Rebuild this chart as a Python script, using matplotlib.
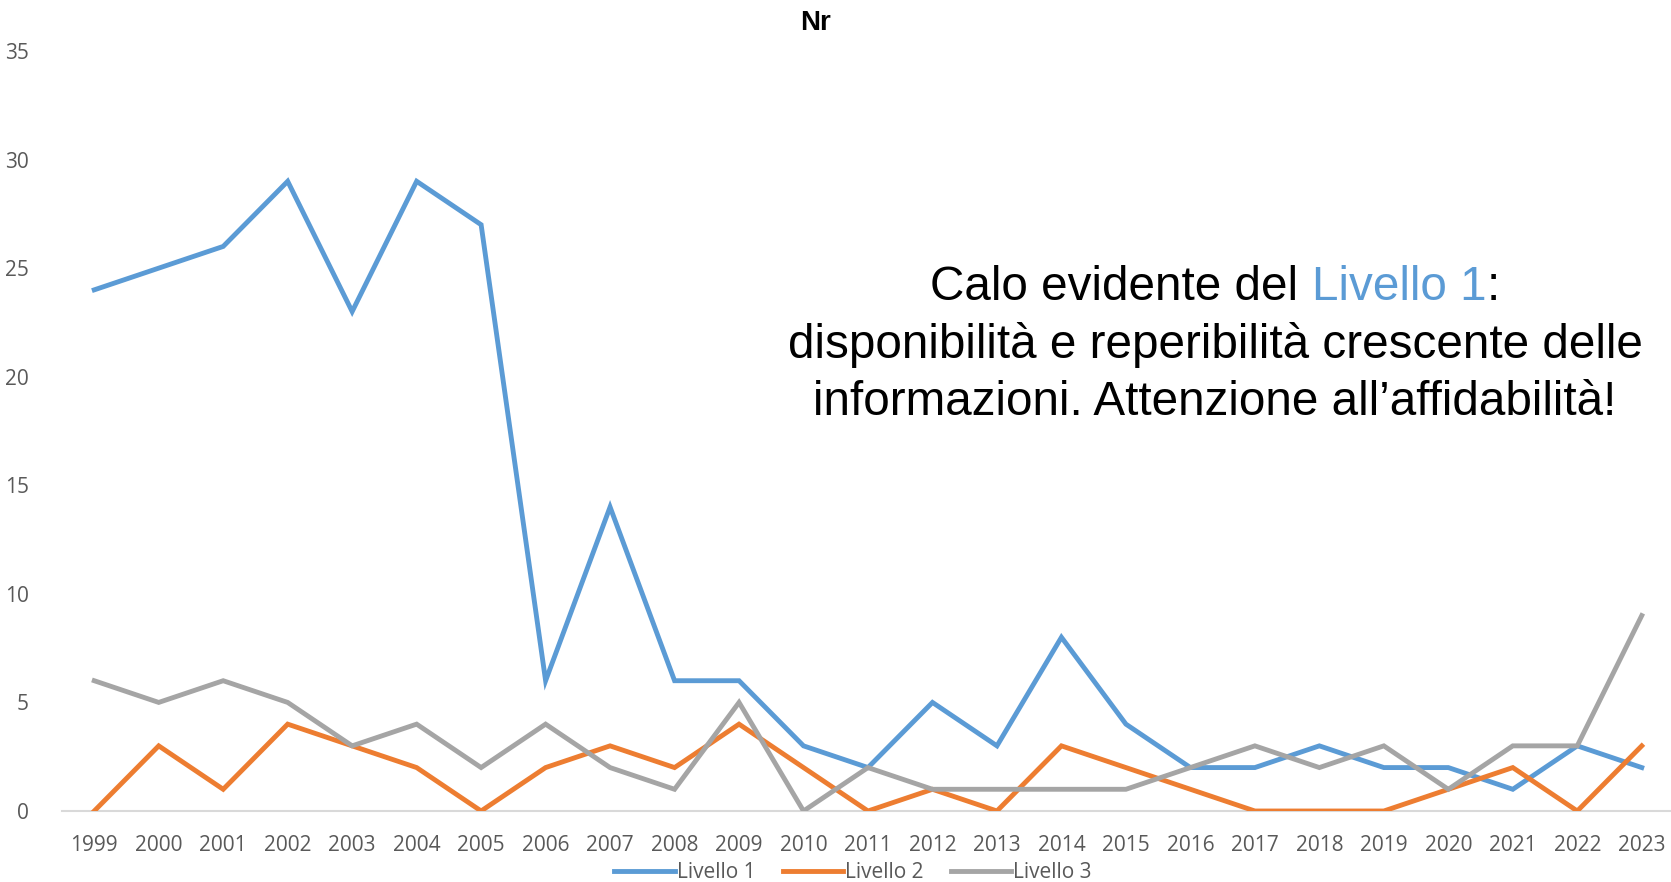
import matplotlib
matplotlib.use("Agg")
import matplotlib.pyplot as plt
from matplotlib.lines import Line2D

years = [str(y) for y in range(1999, 2024)]
livello1 = [24, 25, 26, 29, 23, 29, 27, 6, 14, 6, 6, 3, 2, 5, 3, 8, 4, 2, 2, 3, 2, 2, 1, 3, 2]
livello2 = [0, 3, 1, 4, 3, 2, 0, 2, 3, 2, 4, 2, 0, 1, 0, 3, 2, 1, 0, 0, 0, 1, 2, 0, 3]
livello3 = [6, 5, 6, 5, 3, 4, 2, 4, 2, 1, 5, 0, 2, 1, 1, 1, 1, 2, 3, 2, 3, 1, 3, 3, 9]
series_names = ["Livello 1", "Livello 2", "Livello 3"]
colors = ["#5B9BD5", "#ED7D31", "#A5A5A5"]
yticks = [0, 5, 10, 15, 20, 25, 30, 35]

plt.rcParams['font.family'] = ['Open Sans', 'DejaVu Sans']

W, H = 1671, 882
fig = plt.figure(figsize=(W / 100, H / 100), dpi=100)
ax = fig.add_axes([62 / W, (H - 811) / H, (1674 - 62) / W, (811 - 51) / H])

x = list(range(len(years)))
for vals, c, name in zip([livello1, livello2, livello3], colors, series_names):
    ax.plot(x, vals, color=c, lw=3.5, solid_joinstyle='miter', label=name, zorder=3)

ax.set_xlim(-0.5, len(years) - 0.5)
ax.set_ylim(0, 35)
ax.set_yticks(yticks)
ax.set_xticks(x)
ax.set_xticklabels(years)
for s in ['top', 'right', 'left']:
    ax.spines[s].set_visible(False)
ax.spines['bottom'].set_color('#D9D9D9')
ax.spines['bottom'].set_linewidth(1.5)
ax.tick_params(axis='both', length=0, colors='#595959', labelsize=15)
ax.tick_params(axis='y', pad=24)
ax.tick_params(axis='x', pad=17)
ax.set_facecolor('none')

fig.text(815 / W, 1 - 23 / H, "Nr", ha='center', va='center', fontsize=20,
         fontweight='bold', color='black', family=['Liberation Sans', 'DejaVu Sans'])

handles = [Line2D([0], [0], color=c, lw=3.5) for c in colors]
leg = fig.legend(handles, series_names, loc='center', bbox_to_anchor=(853 / W, 1 - 873 / H),
                 ncol=3, frameon=False, fontsize=15, handlelength=2.9,
                 handletextpad=0.1, columnspacing=1.3, borderpad=0)
for t in leg.get_texts():
    t.set_color('#595959')

# Annotation with multi-coloured first line
afont = dict(fontsize=34.3, family=['Liberation Sans', 'DejaVu Sans'], va='center')
cx = 1215 / W
parts = [("Calo evidente del ", 'black'), ("Livello 1", colors[0]), (":", 'black')]
renderer = fig.canvas.get_renderer()
tmp = [fig.text(0, 0, p, **afont) for p, _ in parts]
widths = [t.get_window_extent(renderer).width for t in tmp]
for t in tmp:
    t.remove()
full_w = sum(widths)
start = 1215 - full_w / 2
y1 = 1 - 288 / H
xpos = start
for (p, c), w in zip(parts, widths):
    fig.text(xpos / W, y1, p, color=c, ha='left', **afont)
    xpos += w
fig.text(cx, 1 - 345 / H, "disponibilità e reperibilità crescente delle", ha='center', color='black', **afont)
fig.text(cx, 1 - 402 / H, "informazioni. Attenzione all\u2019affidabilità!", ha='center', color='black', **afont)

fig.savefig("out.png", dpi=100)
